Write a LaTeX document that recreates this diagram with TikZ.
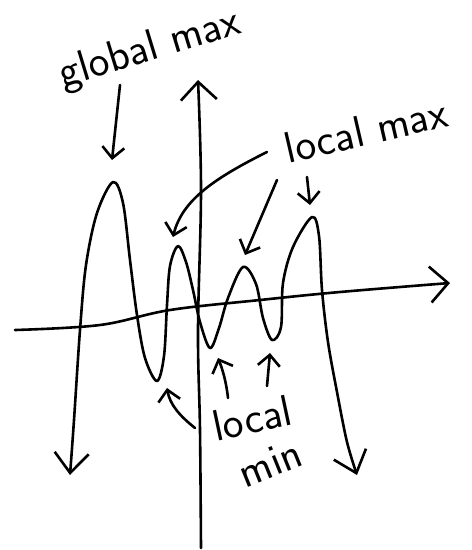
\documentclass[tikz,border=0pt]{standalone}
\usepackage{tikz}
\usetikzlibrary{arrows.meta}

\begin{document}
\begin{tikzpicture}[x=1pt, y=-1pt,
        pen/.style={line width=2.6pt, line cap=round, line join=round},
        note/.style={font=\fontsize{44}{48}\selectfont\sffamily, inner sep=0pt},
        arrow/.style={pen, -{Straight Barb[length=11pt, width=22pt]}},
        axis/.style={pen, -{Straight Barb[length=18pt, width=36pt]}},
        ends/.style={pen, {Straight Barb[length=20pt, width=34pt]}-{Straight Barb[length=20pt, width=34pt]}}
    ]
        \useasboundingbox (0,0) rectangle (472,550);
        % Axes
        \coordinate (ybot) at (201,548);
        \coordinate (ytop) at (198,80);
        \coordinate (xleft) at (15,330);
        \coordinate (xright) at (450,283);
        \draw[axis] plot[smooth, tension=0.6] coordinates {(ybot) (200,430) (198,330) (201,190) (ytop)};
        \draw[axis] plot[smooth, tension=0.6] coordinates {(xleft) (100,325) (170,310) (260,300) (340,292) (xright)};
        % Extrema
        \coordinate (gpeak) at (113,182);
        \coordinate (peak1) at (178,246);
        \coordinate (peak2) at (243,267);
        \coordinate (peak3) at (312,217);
        \coordinate (low1) at (157,381);
        \coordinate (low2) at (210,348);
        \coordinate (low3) at (272,340);
        % Curve
        \draw[ends] plot[smooth, tension=0.55] coordinates {
            (70,475) (74,420) (80,330) (86,265) (97,213) (gpeak) (123,203) (130,260)
            (137,315) (145,358) (low1) (164,356) (167,305) (170,266) (peak1) (186,262)
            (193,290) (200,322) (low2) (219,328) (228,298) (peak2) (256,284) (263,318)
            (low3) (281,327) (283,283) (293,247) (peak3) (319,236) (322,290) (328,342)
            (337,392) (347,442) (357,475)};
        % Labels
        \node[note, rotate=17] (gmax) at (150,50) {global max};
        \node[note, rotate=13] (lmax) at (366,130) {local max};
        \node[note, rotate=12] (lmin) at (252,418) {local};
        \node[note, rotate=22] (lminb) at (270,463) {min};
        % Arrows
        \coordinate (gtail) at (120,85);
        \coordinate (ltail1) at (267,152);
        \coordinate (ltail2) at (277,180);
        \coordinate (ltail3) at (307,177);
        \coordinate (mtail1) at (195,428);
        \coordinate (mtail2) at (228,398);
        \coordinate (mtail3) at (267,386);
        \draw[arrow] (gtail) -- ([shift={(-1,-22)}]gpeak);
        \draw[arrow] (ltail1) .. controls (215,178) and (182,200) .. ([shift={(-5,-9)}]peak1);
        \draw[arrow] (ltail2) -- ([shift={(2,-12)}]peak2);
        \draw[arrow] (ltail3) -- ([shift={(-2,-12)}]peak3);
        \draw[arrow] (mtail1) .. controls (180,416) and (170,405) .. ([shift={(10,7)}]low1);
        \draw[arrow] (mtail2) .. controls (226,380) and (222,368) .. ([shift={(8,10)}]low2);
        \draw[arrow] (mtail3) -- ([shift={(-2,13)}]low3);
    \end{tikzpicture}
\end{document}
